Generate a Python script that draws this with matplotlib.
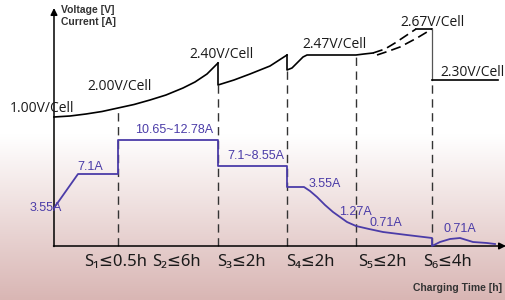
import numpy as np
import matplotlib.pyplot as plt
from matplotlib.colors import LinearSegmentedColormap

# schematic units: origin at the axes corner, x = time, y = height
stage_edges = [64, 164, 233, 302, 378]
stage_labels = ['S\u2081\u22640.5h', 'S\u2082\u22646h', 'S\u2083\u22642h',
                'S\u2084\u22642h', 'S\u2085\u22642h', 'S\u2086\u22644h']
stage_label_x = [62, 122, 187, 256, 328, 394]

# voltage curve pieces
v1_x = [0, 16, 32, 48, 64, 80, 96, 112, 129, 141, 153, 164]
v1_y = [129, 130, 132, 134.5, 138, 141.5, 146, 151, 158, 164, 172, 183]
v2_x = [164, 164, 180, 196, 216, 233]
v2_y = [183, 161, 166, 172, 180, 191]
v3_x = [233, 233, 238, 244, 249, 253, 302, 310, 319]
v3_y = [191, 176, 178, 184, 189, 191, 191, 192, 193]
v_up_x = [319, 331, 341, 350, 356, 362]
v_up_y = [193, 197, 203, 209, 213, 217]
v_lo_x = [323, 335, 346, 363, 378]
v_lo_y = [191, 195, 199, 208, 217]
v4_x = [362, 378, 378]
v4_y = [217, 217, 166]
v5_x = [378, 444]
v5_y = [166, 166]
v_tops = [138, 161, 176, 191, 166]

v_labels = ['1.00V/Cell', '2.00V/Cell', '2.40V/Cell', '2.47V/Cell', '2.67V/Cell', '2.30V/Cell']
v_label_x = [-12, 66, 168, 281, 379, 419]
v_label_y = [138, 159, 191, 202, 224, 173]

# current curve
i_x = [0, 24, 64, 64, 164, 164, 233, 233, 250, 256, 263, 271, 279, 293, 302,
       315, 329, 353, 378, 378, 386, 396, 406, 419, 433, 441]
i_y = [38, 72, 72, 106, 106, 80, 80, 59, 59, 55, 49, 41, 34, 24, 20,
       17, 14, 11, 8, 0, 4, 7, 8, 4, 3, 2]
i_labels = ['3.55A', '7.1A', '10.65~12.78A', '7.1~8.55A', '3.55A', '1.27A', '0.71A', '0.71A']
i_label_x = [-8, 36, 120, 202, 271, 301, 332, 406]
i_label_y = [38, 79, 116, 90, 62, 34, 23, 17]

purple = '#4b3ca8'
vfont = ['Open Sans', 'DejaVu Sans']

fig = plt.figure(figsize=(5.06, 3.0), dpi=100)
ax = fig.add_axes([0, 0, 1, 1])
ax.set_xlim(-54, 452)
ax.set_ylim(-54, 246)
ax.axis('off')

# background fade
cmap = LinearSegmentedColormap.from_list('bg', [(0, '#d9b6b4'), (0.55, '#ffffff'), (1, '#ffffff')])
grad = np.linspace(0, 1, 256).reshape(-1, 1)
ax.imshow(grad, extent=[-54, 452, -54, 246], origin='lower', cmap=cmap, aspect='auto', zorder=0)

# axes with arrows
ax.annotate('', xy=(0, 238), xytext=(0, -0.5),
            arrowprops=dict(arrowstyle='-|>', color='black', lw=1.1, mutation_scale=10, shrinkA=0, shrinkB=0))
ax.annotate('', xy=(452, 0), xytext=(-0.5, 0),
            arrowprops=dict(arrowstyle='-|>', color='black', lw=1.1, mutation_scale=10, shrinkA=0, shrinkB=0))

# stage separators
for x, top in zip(stage_edges, v_tops):
    ax.plot([x, x], [0, top], color='#333333', lw=1, ls=(0, (6, 4)), zorder=2)

# voltage
for xs, ys in [(v1_x, v1_y), (v2_x, v2_y), (v3_x, v3_y)]:
    ax.plot(xs, ys, color='black', lw=1.2, zorder=3)
ax.plot(v_up_x, v_up_y, color='black', lw=1.2, ls=(0, (6, 3)), zorder=3)
ax.plot(v_lo_x, v_lo_y, color='black', lw=1.2, ls=(0, (6, 3)), zorder=3)
ax.plot(v4_x[:2], v4_y[:2], color='black', lw=1.2, zorder=3)
ax.plot(v4_x[1:], v4_y[1:], color='#555555', lw=0.9, zorder=3)
ax.plot(v5_x, v5_y, color='black', lw=1.2, zorder=3)

for t, x, y in zip(v_labels, v_label_x, v_label_y):
    ax.text(x, y, t, ha='center', va='center', fontsize=10, family=vfont, color='#1a1a1a', zorder=4)

# current
ax.plot(i_x, i_y, color=purple, lw=1.3, zorder=3)
for t, x, y in zip(i_labels, i_label_x, i_label_y):
    ax.text(x, y, t, ha='center', va='center', fontsize=9, family='Liberation Sans', color=purple, zorder=4)

# stage labels
for t, x in zip(stage_labels, stage_label_x):
    ax.text(x, -16, t, ha='center', va='center', fontsize=12, family=['Noto Sans', 'DejaVu Sans'],
            color='#1a1a1a', zorder=4)

ax.text(7, 236, 'Voltage [V]', ha='left', va='center', fontsize=7.5, weight='bold',
        family='Liberation Sans', color='#333333')
ax.text(7, 224, 'Current [A]', ha='left', va='center', fontsize=7.5, weight='bold',
        family='Liberation Sans', color='#333333')
ax.text(448, -42, 'Charging Time [h]', ha='right', va='center', fontsize=7.5, weight='bold',
        family='Liberation Sans', color='#333333')

fig.savefig('out.png', dpi=100)
